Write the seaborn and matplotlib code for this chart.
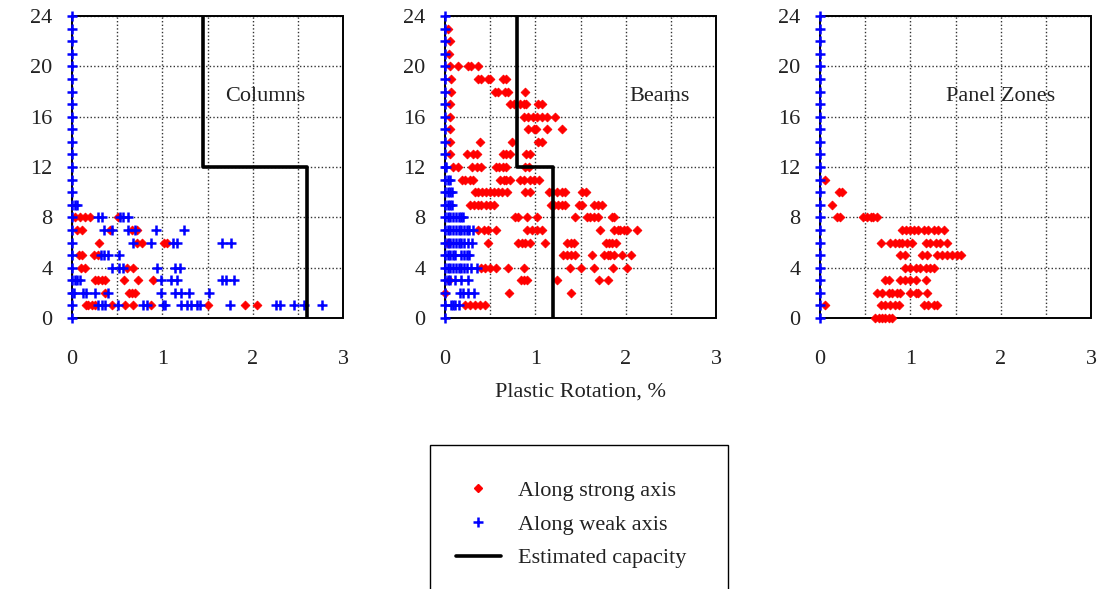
import numpy as np
import pandas as pd
import matplotlib
matplotlib.use("Agg")
import matplotlib.pyplot as plt
import seaborn as sns
from matplotlib.lines import Line2D
from matplotlib.patches import Rectangle

# ---------------- data (plastic rotation %, per story level) ----------------
levels_all = list(range(0, 25))          # weak-axis points sit at 0 on every level

col_strong = {
    8: [0.03, 0.09, 0.14, 0.20, 0.51],
    7: [0.05, 0.11, 0.42, 0.66, 0.72],
    6: [0.30, 0.72, 0.77, 1.02, 1.05],
    5: [0.08, 0.11, 0.24, 0.29],
    4: [0.10, 0.14, 0.61, 0.67],
    3: [0.25, 0.29, 0.33, 0.37, 0.58, 0.73, 0.90],
    2: [0.36, 0.63, 0.66, 0.70],
    1: [0.15, 0.18, 0.22, 0.25, 0.44, 0.59, 0.68, 0.88, 1.50, 1.92, 2.05],
}
col_weak = {
    9: [0.03, 0.06],
    8: [0.29, 0.33, 0.53, 0.57, 0.62],
    7: [0.35, 0.44, 0.62, 0.70, 0.93, 1.24],
    6: [0.68, 0.87, 1.12, 1.16, 1.66, 1.76],
    5: [0.32, 0.35, 0.40, 0.52],
    4: [0.44, 0.52, 0.57, 0.94, 1.14, 1.20],
    3: [0.03, 0.06, 0.09, 0.98, 1.10, 1.16, 1.66, 1.71, 1.79],
    2: [0.02, 0.12, 0.15, 0.25, 0.40, 0.99, 1.14, 1.21, 1.29, 1.52],
    1: [0.29, 0.33, 0.36, 0.51, 0.79, 0.83, 1.01, 1.03, 1.21, 1.27, 1.32,
        1.38, 1.42, 1.75, 2.26, 2.30, 2.46, 2.57, 2.77],
}
col_cap_x = [1.45, 1.45, 2.60, 2.60]
col_cap_y = [24, 12, 12, 0]

beam_strong = {
    23: [0.03], 22: [0.05], 21: [0.04],
    20: [0.05, 0.14, 0.26, 0.29, 0.36],
    19: [0.07, 0.36, 0.40, 0.48, 0.50, 0.64, 0.68],
    18: [0.07, 0.55, 0.59, 0.66, 0.70, 0.89],
    17: [0.05, 0.72, 0.76, 0.83, 0.87, 0.90, 1.03, 1.07],
    16: [0.05, 0.87, 0.92, 0.97, 1.02, 1.07, 1.13, 1.22],
    15: [0.05, 0.92, 0.98, 1.01, 1.13, 1.29],
    14: [0.05, 0.39, 0.74, 1.03, 1.07],
    13: [0.05, 0.24, 0.31, 0.35, 0.64, 0.68, 0.72, 0.90, 0.94],
    12: [0.09, 0.14, 0.30, 0.35, 0.40, 0.56, 0.60, 0.64, 0.68, 0.89, 0.93],
    11: [0.19, 0.22, 0.28, 0.31, 0.61, 0.65, 0.68, 0.72, 0.83, 0.87, 0.94, 0.98, 1.04],
    10: [0.33, 0.37, 0.41, 0.45, 0.50, 0.54, 0.59, 0.63, 0.69, 0.89, 0.94,
         1.15, 1.19, 1.24, 1.30, 1.33, 1.52, 1.56],
    9: [0.28, 0.32, 0.36, 0.40, 0.45, 0.50, 0.54, 1.17, 1.21, 1.25, 1.29,
        1.33, 1.48, 1.52, 1.65, 1.69, 1.74],
    8: [0.78, 0.81, 0.91, 1.02, 1.44, 1.57, 1.61, 1.65, 1.69, 1.85, 1.87],
    7: [0.37, 0.43, 0.48, 0.56, 0.91, 0.96, 1.02, 1.07, 1.72, 1.87, 1.91,
        1.94, 1.98, 2.02, 2.13],
    6: [0.03, 0.48, 0.81, 0.85, 0.89, 0.94, 1.11, 1.35, 1.39, 1.43, 1.78,
        1.81, 1.85, 1.89],
    5: [1.31, 1.35, 1.39, 1.44, 1.63, 1.76, 1.80, 1.83, 1.87, 1.96, 2.06],
    4: [0.40, 0.44, 0.50, 0.57, 0.70, 0.87, 1.38, 1.50, 1.65, 1.86, 2.02],
    3: [0.04, 0.84, 0.88, 0.91, 1.24, 1.70, 1.80],
    2: [0.00, 0.71, 1.39],
    1: [0.22, 0.28, 0.33, 0.39, 0.44],
}
beam_weak = {
    12: [0.01], 11: [0.03, 0.05], 10: [0.03, 0.06, 0.08], 9: [0.03, 0.06, 0.08],
    8: [0.03, 0.06, 0.09, 0.12, 0.15, 0.18, 0.20],
    7: [0.03, 0.06, 0.09, 0.12, 0.15, 0.18, 0.21, 0.24, 0.27, 0.31],
    6: [0.03, 0.06, 0.09, 0.12, 0.15, 0.18, 0.21, 0.26, 0.30],
    5: [0.03, 0.06, 0.09, 0.11, 0.18, 0.21, 0.24, 0.27],
    4: [0.03, 0.06, 0.09, 0.12, 0.15, 0.18, 0.21, 0.24, 0.29, 0.35],
    3: [0.03, 0.06, 0.11, 0.18, 0.26],
    2: [0.17, 0.20, 0.26, 0.32],
    1: [0.07, 0.09, 0.11, 0.15],
}
beam_cap_x = [0.80, 0.80, 1.20, 1.20]
beam_cap_y = [24, 12, 12, 0]

pz_strong = {
    11: [0.06], 10: [0.21, 0.24], 9: [0.13],
    8: [0.19, 0.22, 0.48, 0.52, 0.56, 0.59, 0.63],
    7: [0.91, 0.95, 1.00, 1.04, 1.09, 1.15, 1.20, 1.26, 1.31, 1.37],
    6: [0.67, 0.78, 0.83, 0.87, 0.91, 0.96, 1.02, 1.17, 1.22, 1.28, 1.33, 1.41],
    5: [0.89, 0.94, 1.13, 1.19, 1.30, 1.35, 1.41, 1.46, 1.52, 1.56],
    4: [0.94, 1.00, 1.06, 1.11, 1.17, 1.22, 1.26],
    3: [0.72, 0.76, 0.89, 0.94, 1.00, 1.06, 1.17],
    2: [0.63, 0.69, 0.76, 0.80, 0.85, 0.89, 1.00, 1.06, 1.09, 1.19],
    1: [0.06, 0.67, 0.72, 0.78, 0.83, 0.87, 1.15, 1.20, 1.26, 1.30],
    0: [0.61, 0.65, 0.69, 0.72, 0.76, 0.80],
}
pz_weak = {}

panel_titles = ["Columns", "Beams", "Panel Zones"]
x_ticks = [0, 1, 2, 3]
y_ticks = [0, 4, 8, 12, 16, 20, 24]
legend_labels = ["Along strong axis", "Along weak axis", "Estimated capacity"]
x_label = "Plastic Rotation, %"


def to_frame(d, with_zero_levels=False):
    rows = []
    if with_zero_levels:
        rows += [(0.0, lv) for lv in levels_all]
    for lv, xs in d.items():
        rows += [(x, lv) for x in xs]
    return pd.DataFrame(rows, columns=["rot", "level"])


# ---------------- figure ----------------
sns.set_style("white")
plt.rcParams["font.family"] = ["Liberation Serif", "DejaVu Serif"]

W, H = 1102, 589
fig = plt.figure(figsize=(W / 100, H / 100), dpi=100)

lefts = [72, 445, 820]
pw, top_px, bot_px = 271, 16, 318
panels = [
    (col_strong, col_weak, col_cap_x, col_cap_y, 2.14),
    (beam_strong, beam_weak, beam_cap_x, beam_cap_y, 2.37),
    (pz_strong, pz_weak, None, None, 2.0),
]

FS = 16
for i, (strong, weak, cx, cy, tx) in enumerate(panels):
    ax = fig.add_axes([lefts[i] / W, 1 - bot_px / H, pw / W, (bot_px - top_px) / H])
    ax.set_xlim(0, 3)
    ax.set_ylim(0, 24)
    ax.set_xticks(x_ticks)
    ax.set_xticks([0.5, 1.5, 2.5], minor=True)
    ax.set_yticks(y_ticks)
    ax.set_xticklabels([str(t) for t in x_ticks])
    ax.set_yticklabels([str(t) for t in y_ticks])
    ax.grid(True, which="both", axis="x", ls=(0, (1, 1.6)), color="#333333", lw=1.0)
    ax.grid(True, which="major", axis="y", ls=(0, (1, 1.6)), color="#333333", lw=1.0)
    ax.set_axisbelow(True)
    ax.spines["bottom"].set_position(("outward", 11))
    for s in ax.spines.values():
        s.set_visible(False)
    ax.tick_params(axis="both", which="major", direction="out", color="#cfcfcf",
                   length=12, width=1.0, labelsize=FS, pad=2, labelcolor="#222222")
    ax.tick_params(axis="x", which="major", pad=0)
    ax.tick_params(axis="both", which="minor", length=0)
    ax.add_patch(Rectangle((0, 0), 1, 1, transform=ax.transAxes, fill=False,
                           ec="black", lw=1.4, zorder=5, clip_on=False))

    df_s = to_frame(strong)
    df_w = to_frame(weak, with_zero_levels=True)
    sns.scatterplot(data=df_s, x="rot", y="level", ax=ax, marker="D", color="red",
                    s=20, edgecolor="red", linewidth=0.6, clip_on=False, zorder=6)
    sns.scatterplot(data=df_w, x="rot", y="level", ax=ax, marker="+", color="blue",
                    s=48, linewidth=1.8, clip_on=False, zorder=7)
    if cx is not None:
        sns.lineplot(x=cx, y=cy, sort=False, estimator=None, color="black",
                     lw=2.6, ax=ax, zorder=8)
    ax.text(tx, 17.6, panel_titles[i], ha="center", va="center", fontsize=FS,
            color="#222222")
    ax.set_ylabel("")
    if i == 1:
        ax.set_xlabel(x_label, fontsize=FS, labelpad=10, color="#222222")
    else:
        ax.set_xlabel("")

# legend box (cut off at the figure bottom as in the reference)
fig.add_artist(Rectangle((430 / W, -0.1), (728 - 430) / W, 0.1 + 1 - 445 / H,
                         transform=fig.transFigure, fill=False, ec="black", lw=1.0))
handles = [
    Line2D([], [], ls="none", marker="D", color="red", ms=4, mec="red"),
    Line2D([], [], ls="none", marker="+", color="blue", ms=7, mew=1.8),
    Line2D([], [], color="black", lw=2.6),
]
fig.legend(handles, legend_labels, loc="upper left",
           bbox_to_anchor=(445 / W, 1 - 469 / H), frameon=False, fontsize=FS,
           borderpad=0, handlelength=2.0, handletextpad=0.8, labelspacing=0.6,
           labelcolor="#222222")

fig.savefig("out.png", dpi=100)
